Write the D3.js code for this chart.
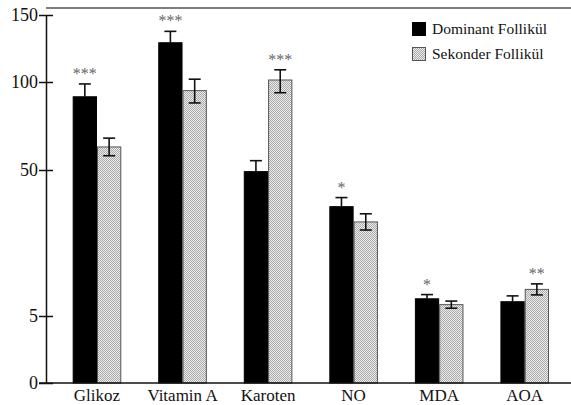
<!DOCTYPE html>
<html>
<head>
<meta charset="utf-8">
<script src="https://cdn.jsdelivr.net/npm/d3@7"></script>
<style>
  body { margin: 0; background: #fff; }
  svg text { font-family: "Liberation Serif", "Times New Roman", Times, serif; }
</style>
</head>
<body>
<div id="chart"></div>
<script>
// data
const categories = ["Glikoz", "Vitamin A", "Karoten", "NO", "MDA", "AOA"];
const seriesNames = ["Dominant Follikül", "Sekonder Follikül"];
const dominant = [91.6, 129.3, 49.5, 38.7, 10.3, 9.4];
const dominantErr = [7.3, 8.5, 5.8, 2.8, 1.3, 1.8];
const sekonder = [63.1, 95.1, 101.5, 34.0, 8.5, 13.2];
const sekonderErr = [5.0, 7.0, 7.6, 2.5, 1.1, 1.7];
// significance marks: [category, series index, text]
const stars = [
  ["Glikoz", 0, "***"], ["Vitamin A", 0, "***"], ["Karoten", 1, "***"],
  ["NO", 0, "*"], ["MDA", 0, "*"], ["AOA", 1, "**"]
];
const yTicks = [0, 5, 50, 100, 150];

const width = 571, height = 405;

const svg = d3.select("#chart").append("svg")
  .attr("width", width)
  .attr("height", height);

// dotted fill for the second series
const defs = svg.append("defs");
const pat = defs.append("pattern")
  .attr("id", "dots")
  .attr("patternUnits", "userSpaceOnUse")
  .attr("width", 2).attr("height", 2);
pat.append("rect").attr("width", 2).attr("height", 2).attr("fill", "#ececec");
pat.append("rect").attr("width", 1).attr("height", 1).attr("fill", "#aaa");
pat.append("rect").attr("x", 1).attr("y", 1).attr("width", 1).attr("height", 1).attr("fill", "#aaa");

// the axis is not linear in the original, so piecewise scale
const y = d3.scaleLinear()
  .domain(yTicks)
  .range([383, 316, 170, 82, 15]);

const x = d3.scaleBand()
  .domain(categories)
  .range([50.7, 571])
  .paddingInner(0.432)
  .paddingOuter(0.257);

const xs = d3.scaleBand()
  .domain([0, 1])
  .range([0, x.bandwidth()]);

const series = [
  { vals: dominant, err: dominantErr, fill: "#000", stroke: "#000" },
  { vals: sekonder, err: sekonderErr, fill: "url(#dots)", stroke: "#555" }
];

// top frame line
svg.append("line")
  .attr("x1", 46).attr("x2", width)
  .attr("y1", 8).attr("y2", 8)
  .attr("stroke", "#555").attr("stroke-width", 1.5);

// bars
series.forEach(function (s, si) {
  svg.append("g").selectAll("rect")
    .data(categories)
    .join("rect")
    .attr("x", d => x(d) + xs(si) + 0.5)
    .attr("width", xs.bandwidth() - 1)
    .attr("y", (d, i) => y(s.vals[i]))
    .attr("height", (d, i) => y(0) - y(s.vals[i]))
    .attr("fill", s.fill)
    .attr("stroke", s.stroke)
    .attr("stroke-width", 1);
});

// error bars
series.forEach(function (s, si) {
  const g = svg.append("g").attr("stroke", "#111").attr("stroke-width", 1.6);
  categories.forEach(function (c, i) {
    const cx = x(c) + xs(si) + xs.bandwidth() / 2;
    const top = y(s.vals[i] + s.err[i]);
    const bot = si === 0 ? y(s.vals[i]) : y(s.vals[i] - s.err[i]);
    g.append("line").attr("x1", cx).attr("x2", cx).attr("y1", top).attr("y2", bot);
    g.append("line").attr("x1", cx - 6).attr("x2", cx + 6).attr("y1", top).attr("y2", top);
    if (si === 1) {
      g.append("line").attr("x1", cx - 6).attr("x2", cx + 6).attr("y1", bot).attr("y2", bot);
    }
  });
});

// significance stars
svg.append("g").selectAll("text")
  .data(stars)
  .join("text")
  .attr("x", d => x(d[0]) + xs(d[1]) + xs.bandwidth() / 2)
  .attr("y", function (d) {
    const i = categories.indexOf(d[0]);
    const s = series[d[1]];
    return y(s.vals[i] + s.err[i]) - 5;
  })
  .attr("text-anchor", "middle")
  .attr("font-size", 16)
  .attr("fill", "#666")
  .text(d => d[2]);

// y axis
const yAxis = svg.append("g")
  .attr("transform", "translate(46,0)")
  .call(d3.axisLeft(y).tickValues(yTicks).tickSize(0).tickPadding(8));
yAxis.select(".domain").attr("stroke", "#111").attr("stroke-width", 1.5);
yAxis.selectAll("text").attr("font-size", 18).attr("fill", "#111");
yAxis.selectAll(".tick").append("line")
  .attr("x1", -7).attr("x2", 7)
  .attr("stroke", "#111").attr("stroke-width", 1.5);

// x axis
const xAxis = svg.append("g")
  .attr("transform", "translate(0,383)")
  .call(d3.axisBottom(x).tickSize(0).tickPadding(6).tickSizeOuter(0));
xAxis.select(".domain").attr("d", "M39,0H" + width)
  .attr("stroke", "#111").attr("stroke-width", 1.5);
xAxis.selectAll("text").attr("font-size", 17).attr("fill", "#111");

// legend
const legend = svg.append("g").attr("transform", "translate(412,22)");
seriesNames.forEach(function (name, i) {
  const row = legend.append("g").attr("transform", "translate(0," + i * 25 + ")");
  row.append("rect")
    .attr("x", 0.5).attr("y", 0.5)
    .attr("width", 13).attr("height", 13)
    .attr("fill", series[i].fill)
    .attr("stroke", i === 0 ? "#000" : "#555");
  row.append("text")
    .attr("x", 20).attr("y", 11.5)
    .attr("font-size", 15.5)
    .attr("fill", "#111")
    .text(name);
});
</script>
</body>
</html>
